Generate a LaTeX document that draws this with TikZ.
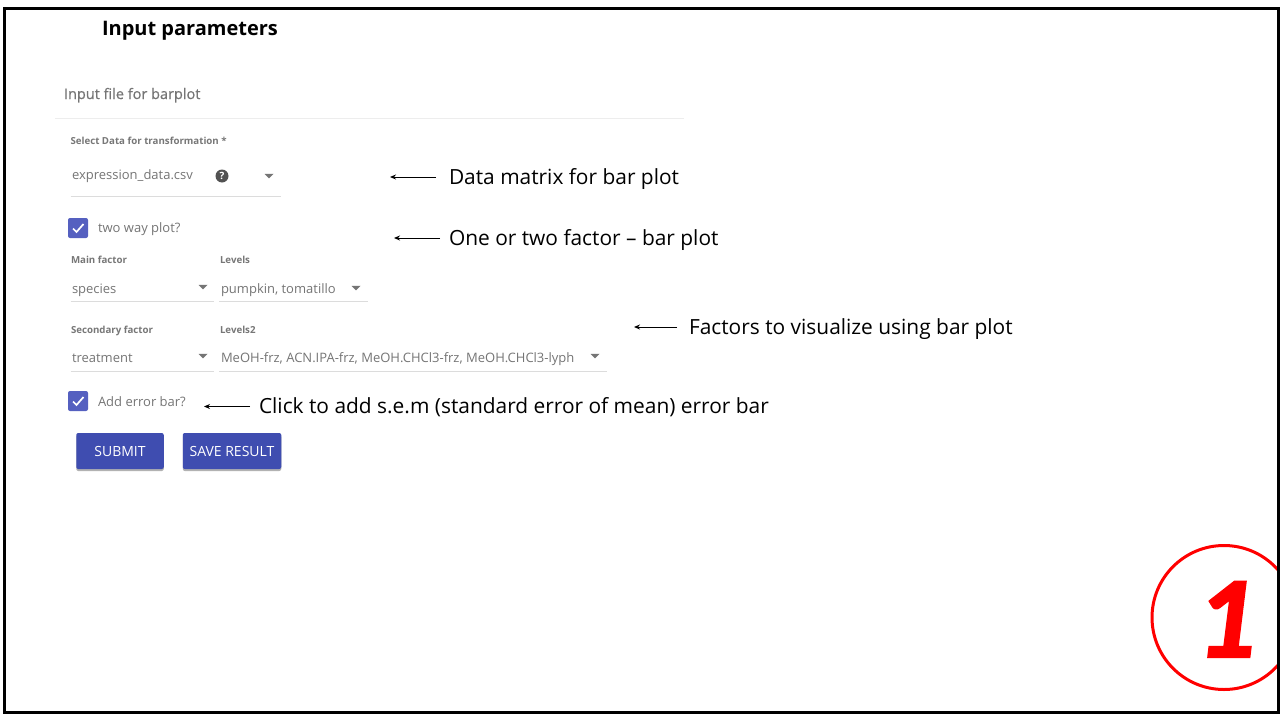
\documentclass[tikz,border=0pt]{standalone}
\usepackage{fontspec}
\setmainfont{Open Sans}
\newfontfamily\carl[BoldItalicFeatures={FakeBold=2}]{Carlito}
\newfontfamily\semi[FakeBold=0.5]{Open Sans}
\usetikzlibrary{arrows.meta,shadows}
\definecolor{uigray}{HTML}{757575}
\definecolor{caplabel}{HTML}{777777}
\definecolor{rulegray}{HTML}{DCDCDC}
\definecolor{indigo}{HTML}{3F4DB0}
\definecolor{checkblue}{HTML}{5560C0}
\tikzset{
  x=1pt,y=-1pt,
  every node/.style={inner sep=0pt,outer sep=0pt},
  uitext/.style={anchor=base west,text=uigray,font=\fontsize{13}{15}\selectfont},
  caplab/.style={anchor=base west,text=caplabel,font=\fontsize{9.7}{11}\selectfont\bfseries},
  note/.style={anchor=base west,text=black,font=\fontsize{20.9}{24}\selectfont,inner xsep=0pt},
  uirule/.style={draw=rulegray,line width=0.9pt},
  arr/.style={-{Stealth[length=6pt,width=5pt]},line width=1pt,black},
  caret/.style={fill=uigray,draw=none},
  chk/.style={fill=checkblue,draw=none,rounded corners=2pt,minimum size=20pt},
  btn/.style={fill=indigo,text=white,rounded corners=2pt,font=\fontsize{14}{16}\selectfont,minimum height=36pt,drop shadow={shadow xshift=0pt,shadow yshift=-2pt,opacity=.3,fill=black}},
}
\newcommand{\caretat}[2]{\fill[caret] (#1-4.5,#2-2.2) -- (#1+4.5,#2-2.2) -- (#1,#2+2.4) -- cycle;}
\newcommand{\tickat}[2]{\draw[white,line width=1.7pt] (#1-5,#2+0.5) -- (#1-1.5,#2+4) -- (#1+5.5,#2-4);}
\begin{document}
\begin{tikzpicture}
\useasboundingbox (0,0) rectangle (1280,720);
\fill[white] (0,0) rectangle (1280,720);
% badge
\begin{scope}
\clip (0,0) rectangle (1277,720);
\node[circle,draw=red,line width=3pt,fill=none,minimum size=144pt] (badge) at (1224,617.5) {};
\end{scope}
\node[anchor=base,text=red,font=\fontsize{116}{116}\selectfont\carl\bfseries\itshape] (one) at (1226,657) {1};
% frame
\draw[black,line width=3pt] (4,8) rectangle (1278,712);
% title
\node[anchor=base west,font=\fontsize{20}{24}\selectfont\bfseries] (title) at (102,35) {Input parameters};
\node[anchor=base west,text=uigray,font=\fontsize{14.5}{17}\selectfont\semi] (hdr) at (64,99) {Input file for barplot};
\draw[draw=rulegray!50,line width=.9pt] (55,118) -- (684,118);
% select data
\node[caplab] (l1) at (70.5,144) {Select Data for transformation *};
\node[uitext] (v1) at (72,179) {expression\_data.csv};
\node[circle,fill=uigray!70!black,minimum size=13pt,text=white,font=\fontsize{10}{10}\selectfont\bfseries] (help) at (222,176) {?};
\caretat{269}{176}
\draw[uirule] (70.5,196) -- (281,196);
% two way
\node[chk] (c1) at (78,228) {};
\tickat{78}{228}
\node[uitext] (t1) at (98,232) {two way plot?};
% factors
\node[caplab] (l2) at (71,263) {Main factor};
\node[caplab] (l3) at (220,263) {Levels};
\node[uitext] (v2) at (72,293) {species};
\caretat{203}{287}
\draw[uirule] (70.5,301) -- (214,301);
\node[uitext] (v3) at (221,293) {pumpkin, tomatillo};
\caretat{356}{288}
\draw[uirule] (219,301) -- (368,301);
\node[caplab] (l4) at (71,333) {Secondary factor};
\node[caplab] (l5) at (220,333) {Levels2};
\node[uitext] (v4) at (72,362) {treatment};
\caretat{203}{356}
\draw[uirule] (70.5,371) -- (214,371);
\node[uitext] (v5) at (221,362) {MeOH-frz, ACN.IPA-frz, MeOH.CHCl3-frz, MeOH.CHCl3-lyph};
\caretat{595}{356}
\draw[uirule] (219,371) -- (607,371);
% error bar
\node[chk] (c2) at (78,401) {};
\tickat{78}{401}
\node[uitext] (t2) at (98,406) {Add error bar?};
% buttons
\node[btn,minimum width=87.5pt] (submit) at (120,451) {SUBMIT};
\node[btn,minimum width=98.5pt] (save) at (232,451) {SAVE RESULT};
% annotations
\node[note] (n1) at (449,184) {Data matrix for bar plot};
\node[note] (n2) at (449,245) {One or two factor – bar plot};
\node[note] (n3) at (689,334) {Factors to visualize using bar plot};
\node[note] (n4) at (259,413) {Click to add s.e.m (standard error of mean) error bar};
\coordinate (a1) at (390,177);
\coordinate (a2) at (394,238);
\coordinate (a3) at (634,327);
\coordinate (a4) at (204,406.5);
\draw[arr] ([xshift=-13pt]n1.base west |- a1) -- (a1);
\draw[arr] ([xshift=-9pt]n2.base west |- a2) -- (a2);
\draw[arr] ([xshift=-12pt]n3.base west |- a3) -- (a3);
\draw[arr] ([xshift=-9pt]n4.base west |- a4) -- (a4);
\end{tikzpicture}
\end{document}
